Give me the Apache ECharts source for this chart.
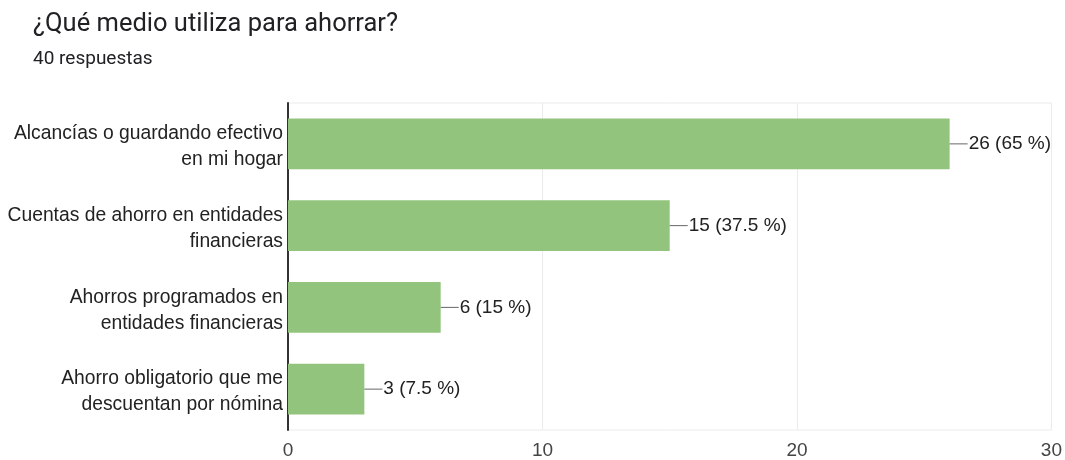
<!DOCTYPE html>
<html><head><meta charset="utf-8">
<script src="https://cdn.jsdelivr.net/npm/echarts@6/dist/echarts.min.js"></script>
<style>html,body{margin:0;padding:0;background:#fff}#c{width:1065px;height:460px}</style>
</head><body><div id="c"></div>
<script>
const categories = ["Alcancías o guardando efectivo\nen mi hogar", "Cuentas de ahorro en entidades\nfinancieras", "Ahorros programados en\nentidades financieras", "Ahorro obligatorio que me\ndescuentan por nómina"];
const values = [26, 15, 6, 3];
const percents = ["65 %", "37.5 %", "15 %", "7.5 %"];
const xTicks = [0, 10, 20, 30];

const chart = echarts.init(document.getElementById('c'));
chart.setOption({
  animation: false,
  title: {
    text: '¿Qué medio utiliza para ahorrar?',
    subtext: '40 respuestas',
    left: 28, top: 7,
    textStyle: {fontFamily: 'Roboto', fontSize: 25.5, fontWeight: 'normal', color: '#202124'},
    subtextStyle: {fontFamily: 'Roboto', fontSize: 19, color: '#202124'},
    itemGap: 12
  },
  grid: {left: 288, right: 12, top: 103, bottom: 28, show: true, borderColor: '#ebebeb', borderWidth: 1},
  xAxis: {
    type: 'value', min: 0, max: 30, interval: 10,
    axisLine: {show: false}, axisTick: {show: false},
    splitLine: {lineStyle: {color: '#ebebeb'}},
    axisLabel: {fontFamily: 'Liberation Sans', fontSize: 19, color: '#444', margin: 11,
      formatter: v => xTicks.includes(v) ? String(v) : ''}
  },
  yAxis: {
    type: 'category', data: categories, inverse: true,
    axisLine: {show: true, lineStyle: {color: '#333', width: 2}},
    axisTick: {show: false},
    axisLabel: {show: false}
  },
  series: [{
    type: 'bar',
    data: values,
    barCategoryGap: '38%',
    itemStyle: {color: '#93c47d'},
    label: {
      show: true, position: 'right', distance: 0,
      formatter: p => '{l|}{v|' + p.value + ' (' + percents[p.dataIndex] + ')}',
      rich: {
        l: {width: 18, height: 1, backgroundColor: '#666'},
        v: {fontFamily: 'Liberation Sans', fontSize: 19, color: '#222', padding: [0,0,0,1]}
      }
    }
  }, {
    type: 'scatter',
    data: categories.map(c => [0, c]),
    symbolSize: 0,
    silent: true,
    z: 5,
    itemStyle: {opacity: 1},
    label: {
      show: true, position: 'left', distance: 5, offset: [0, 3],
      formatter: p => p.value[1],
      fontFamily: 'Liberation Sans', fontSize: 19.3, color: '#222', lineHeight: 26, align: 'right'
    }
  }]
});
</script></body></html>
